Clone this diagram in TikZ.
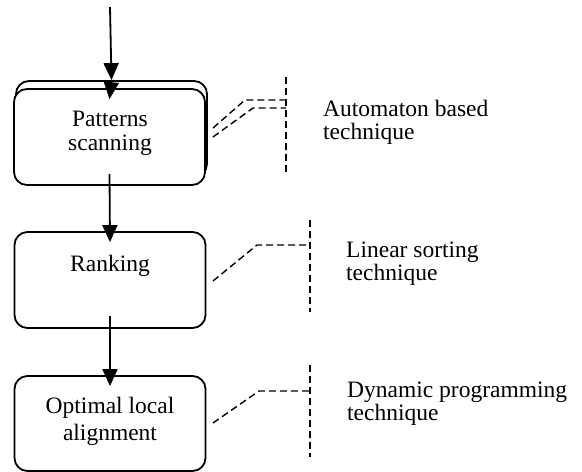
\documentclass[tikz,border=0pt]{standalone}
\usepackage{fontspec}
\setmainfont{Liberation Serif}
\usetikzlibrary{arrows.meta}
\begin{document}
\begin{tikzpicture}[x=1pt,y=-1pt,
  box/.style={draw, line width=1.8pt, rounded corners=13pt, minimum width=191pt, minimum height=96pt, inner sep=0pt, fill=white},
  lbl/.style={font=\fontsize{23.5}{23.5}\selectfont, align=center, inner sep=0pt, anchor=base},
  note/.style={font=\fontsize{23.5}{23}\selectfont, align=left, inner sep=0pt, anchor=base west},
  arr/.style={line width=1.8pt, -{Triangle[length=17pt,width=15pt]}},
  dsh/.style={line width=1.4pt, dash pattern=on 7pt off 4pt}]
\useasboundingbox (0,0) rectangle (582,472);
% boxes
\node[box] (back) at (111.5,129) {};
\node[box] (front) at (109.5,137) {};
\node[box] (rank) at (110,280) {};
\node[box, minimum height=95pt] (opt) at (110,423.5) {};
% box labels
\node[lbl] (t1) at (110,150) {Patterns\\scanning};
\node[lbl] (t2) at (110,271) {Ranking};
\node[lbl, font=\fontsize{23.5}{27}\selectfont] (t3) at (110,440) {Optimal local\\alignment};
% arrows
\coordinate (start) at (110,7);
\draw[arr] (start) -- (back.north);
\draw[arr] (back.north) -- ([yshift=-11pt]front.north);
\draw[arr] ([yshift=12pt]front.south) -- ([yshift=-11pt]rank.north);
\draw[arr] ([yshift=13pt]rank.south) -- ([yshift=-11pt]opt.north);
% notes
\node[note] (n1) at (323,139) {Automaton based\\technique};
\node[note] (n2) at (346,280) {Linear sorting\\technique};
\node[note] (n3) at (347,420) {Dynamic programming\\technique};
% dashed brackets
\coordinate (v1a) at (286,77); \coordinate (v1b) at (286,175);
\draw[dsh] (v1a) -- (v1b);
\draw[dsh] (213,128) -- (245,100) -- (286,100);
\draw[dsh] (213,137) -- (253,108) -- (286,108);
\coordinate (v2a) at (310,220); \coordinate (v2b) at (310,312);
\draw[dsh] (v2a) -- (v2b);
\draw[dsh] (213,281) -- (257,245) -- (310,245);
\coordinate (v3a) at (310,365); \coordinate (v3b) at (310,457);
\draw[dsh] (v3a) -- (v3b);
\draw[dsh] (213,423) -- (259,391) -- (310,391);
\end{tikzpicture}
\end{document}
